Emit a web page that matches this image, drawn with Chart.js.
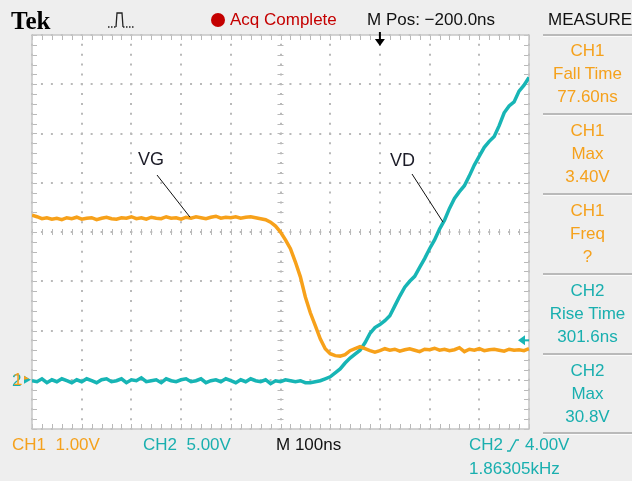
<!DOCTYPE html>
<html>
<head>
<meta charset="utf-8">
<script src="https://cdn.jsdelivr.net/npm/chart.js@4.4.0/dist/chart.umd.min.js"></script>
<style>
  html, body { margin: 0; padding: 0; background: #eeeeee; }
  #wrap { position: relative; width: 632px; height: 481px; overflow: hidden;
          font-family: "Liberation Sans", Arial, sans-serif; font-size: 17px; }
  #scope { position: absolute; left: 0; top: 0; }
  .t { position: absolute; line-height: 20px; white-space: pre; }
  .orange { color: #f5a11c; }
  .cyan { color: #19afaf; }
  .meas { position: absolute; left: 543px; width: 89px; text-align: center; line-height: 20px; }
  .sep { position: absolute; left: 543px; width: 89px; height: 2px; background: #b9b9b9; border-bottom: 1px solid #fbfbfb; }
  .lbl { position: absolute; font-size: 18px; color: #1c1c28; line-height: 20px; }
</style>
</head>
<body>
<div id="wrap">
  <canvas id="scope" width="632" height="481"></canvas>

  <div class="t" style="left:11px;top:8px;font-family:'Liberation Serif',serif;font-weight:bold;font-size:25px;line-height:26px;">Tek</div>
  <svg style="position:absolute;left:106px;top:10px" width="32" height="20">
    <path d="M2 17 H10" stroke="#222" stroke-width="1.3" stroke-dasharray="1.5 1.5" fill="none"/>
    <path d="M10 17 L11 3 H16 L17 17" stroke="#222" stroke-width="1.3" fill="none"/>
    <path d="M17 17 H29" stroke="#222" stroke-width="1.3" stroke-dasharray="1.5 1.5" fill="none"/>
  </svg>
  <svg style="position:absolute;left:210px;top:12px" width="16" height="16"><circle cx="8" cy="8" r="7" fill="#c40000"/></svg>
  <div class="t" style="left:230px;top:10px;color:#c40000;">Acq Complete</div>
  <div class="t" style="left:367px;top:10px;color:#111;">M Pos: −200.0ns</div>
  <div class="t" style="left:548px;top:10px;color:#111;">MEASURE</div>

  <div class="sep" style="top:34px"></div>
  <div class="meas orange" style="top:41px">CH1</div>
  <div class="meas orange" style="top:64px">Fall Time</div>
  <div class="meas orange" style="top:87px">77.60ns</div>
  <div class="sep" style="top:113px"></div>
  <div class="meas orange" style="top:121px">CH1</div>
  <div class="meas orange" style="top:144px">Max</div>
  <div class="meas orange" style="top:167px">3.40V</div>
  <div class="sep" style="top:193px"></div>
  <div class="meas orange" style="top:201px">CH1</div>
  <div class="meas orange" style="top:224px">Freq</div>
  <div class="meas orange" style="top:247px">?</div>
  <div class="sep" style="top:273px"></div>
  <div class="meas cyan" style="top:281px">CH2</div>
  <div class="meas cyan" style="top:304px">Rise Time</div>
  <div class="meas cyan" style="top:327px">301.6ns</div>
  <div class="sep" style="top:353px"></div>
  <div class="meas cyan" style="top:361px">CH2</div>
  <div class="meas cyan" style="top:384px">Max</div>
  <div class="meas cyan" style="top:407px">30.8V</div>
  <div class="sep" style="top:432px"></div>

  <div class="t orange" style="left:12px;top:435px;">CH1  1.00V</div>
  <div class="t cyan" style="left:143px;top:435px;">CH2  5.00V</div>
  <div class="t" style="left:276px;top:435px;color:#111;">M 100ns</div>
  <div class="t cyan" style="left:469px;top:435px;">CH2</div>
  <svg style="position:absolute;left:505px;top:437px" width="16" height="16">
    <path d="M2 14 H5 L11 3 H14" stroke="#19afaf" stroke-width="1.4" fill="none"/>
  </svg>
  <div class="t cyan" style="left:525px;top:435px;">4.00V</div>
  <div class="t cyan" style="left:469px;top:459px;">1.86305kHz</div>

  <div class="t cyan" style="left:12px;top:371px;">2</div>
  <div class="t orange" style="left:13px;top:370px;">1</div>

  <div class="lbl" style="left:138px;top:149px;">VG</div>
  <div class="lbl" style="left:390px;top:150px;">VD</div>
</div>

<script>
// time axis, ns relative to trigger (100 ns/div, 10 divisions)
const timeNs = [
  -700, -690, -680, -670, -660, -650, -640, -630, -620, -610,
  -600, -590, -580, -570, -560, -550, -540, -530, -520, -510,
  -500, -490, -480, -470, -460, -450, -440, -430, -420, -410,
  -400, -390, -380, -370, -360, -350, -340, -330, -320, -310,
  -300, -290, -280, -270, -260, -250, -240, -230, -220, -210,
  -200, -190, -180, -170, -160, -150, -140, -130, -120, -110,
  -100, -90, -80, -70, -60, -50, -40, -30, -20, -10,
  0, 10, 20, 30, 40, 50, 60, 70, 80, 90,
  100, 110, 120, 130, 140, 150, 160, 170, 180, 190,
  200, 210, 220, 230, 240, 250, 260, 270, 280, 290,
  300
];

// CH1 gate voltage, V (1 V/div)
const vgVolts = [
  3.34, 3.31, 3.27, 3.29, 3.26, 3.28, 3.25, 3.29, 3.27, 3.30,
  3.26, 3.28, 3.29, 3.25, 3.28, 3.30, 3.27, 3.26, 3.29, 3.28,
  3.31, 3.27, 3.29, 3.26, 3.30, 3.28, 3.27, 3.31, 3.28, 3.29,
  3.26, 3.30, 3.28, 3.31, 3.29, 3.27, 3.30, 3.32, 3.28, 3.30,
  3.29, 3.31, 3.28, 3.30, 3.31, 3.29, 3.27, 3.25, 3.20, 3.12,
  3.00, 2.84, 2.66, 2.39, 2.09, 1.68, 1.36, 1.10, 0.83, 0.63,
  0.53, 0.49, 0.48, 0.51, 0.59, 0.63, 0.67, 0.63, 0.59, 0.56,
  0.59, 0.63, 0.60, 0.62, 0.58, 0.61, 0.63, 0.60, 0.57, 0.62,
  0.61, 0.64, 0.60, 0.62, 0.59, 0.61, 0.65, 0.57, 0.62, 0.60,
  0.63, 0.59, 0.61, 0.62, 0.60, 0.58, 0.62, 0.60, 0.61, 0.59,
  0.63
];

// CH2 drain voltage, V (5 V/div)
const vdVolts = [
  -0.1, -0.2, 0.1, -0.3, 0.0, -0.2, 0.1, -0.1, -0.3, 0.0,
  -0.2, 0.1, -0.1, -0.3, 0.0, 0.1, -0.2, -0.1, 0.1, -0.3,
  0.0, -0.1, 0.2, -0.2, -0.1, 0.0, -0.3, 0.1, -0.1, -0.2,
  0.0, 0.1, -0.2, -0.1, 0.1, -0.3, -0.1, 0.0, -0.2, 0.1,
  -0.1, -0.3, 0.0, -0.2, 0.1, -0.1, -0.2, 0.0, -0.4, -0.1,
  -0.2, 0.0, -0.1, -0.2, -0.1, -0.3, -0.3, -0.2, -0.1, 0.1,
  0.3, 0.7, 1.1, 1.7, 2.2, 2.6, 3.0, 3.75, 4.7, 5.3,
  5.6, 6.0, 6.5, 7.5, 8.5, 9.4, 10.0, 10.5, 11.4, 12.3,
  13.3, 14.2, 15.3, 16.2, 17.4, 18.4, 19.1, 19.7, 20.7, 21.8,
  22.7, 23.6, 24.2, 24.7, 25.8, 27.1, 27.8, 28.2, 29.3, 29.9,
  30.7
];

const triggerLevel = 4.0;   // CH2 volts
const triggerTime = 0;      // ns

const ORANGE = '#f7a11a';
const CYAN = '#17b5b5';
const GRID = '#b9b9b9';

const scopePlugin = {
    id: 'scope',
    beforeDraw(chart) {
        const { ctx, chartArea: a } = chart;
        ctx.save();
        ctx.fillStyle = '#ffffff';
        ctx.fillRect(a.left, a.top, a.right - a.left, a.bottom - a.top);
        ctx.restore();
    },
    beforeDatasetsDraw(chart) {
        const { ctx, chartArea: a, scales } = chart;
        const xs = scales.x, ys = scales.y;
        const xc = xs.getPixelForValue(-200);
        const yc = ys.getPixelForValue(3);
        ctx.save();
        ctx.strokeStyle = GRID;
        ctx.lineWidth = 1;
        ctx.beginPath();
        // minor ticks, 5 per division
        for (let t = -700; t <= 300; t += 20) {
            const px = Math.round(xs.getPixelForValue(t)) + 0.5;
            ctx.moveTo(px, a.top); ctx.lineTo(px, a.top + 5);
            ctx.moveTo(px, a.bottom); ctx.lineTo(px, a.bottom - 5);
            ctx.moveTo(px, yc - 3); ctx.lineTo(px, yc + 3);
        }
        for (let v = -1; v <= 7.001; v += 0.2) {
            const py = Math.round(ys.getPixelForValue(v)) + 0.5;
            ctx.moveTo(a.left, py); ctx.lineTo(a.left + 5, py);
            ctx.moveTo(a.right, py); ctx.lineTo(a.right - 5, py);
            ctx.moveTo(xc - 3, py); ctx.lineTo(xc + 3, py);
        }
        ctx.stroke();
        ctx.strokeStyle = '#c6c6c6';
        ctx.lineWidth = 1.5;
        ctx.strokeRect(a.left, a.top, a.right - a.left, a.bottom - a.top);
        ctx.restore();
    },
    afterDraw(chart) {
        const { ctx, chartArea: a, scales } = chart;
        ctx.save();

        // trigger position arrow at top
        const tx = scales.x.getPixelForValue(triggerTime);
        ctx.strokeStyle = '#000';
        ctx.fillStyle = '#000';
        ctx.lineWidth = 2;
        ctx.beginPath();
        ctx.moveTo(tx, a.top - 3); ctx.lineTo(tx, a.top + 8);
        ctx.stroke();
        ctx.beginPath();
        ctx.moveTo(tx - 5, a.top + 4); ctx.lineTo(tx + 5, a.top + 4); ctx.lineTo(tx, a.top + 11);
        ctx.closePath(); ctx.fill();

        // trigger level arrow at right
        const ty = scales.y2.getPixelForValue(triggerLevel);
        ctx.fillStyle = CYAN;
        ctx.strokeStyle = CYAN;
        ctx.beginPath();
        ctx.moveTo(a.right - 11, ty); ctx.lineTo(a.right - 4, ty - 5); ctx.lineTo(a.right - 4, ty + 5);
        ctx.closePath(); ctx.fill();
        ctx.beginPath();
        ctx.moveTo(a.right - 5, ty); ctx.lineTo(a.right, ty);
        ctx.stroke();

        // ground markers at left
        const g2 = scales.y2.getPixelForValue(0);
        const g1 = scales.y.getPixelForValue(0);
        ctx.fillStyle = CYAN;
        ctx.beginPath();
        ctx.moveTo(a.left - 8, g2 - 4); ctx.lineTo(a.left - 1, g2); ctx.lineTo(a.left - 8, g2 + 4);
        ctx.closePath(); ctx.fill();
        ctx.fillStyle = ORANGE;
        ctx.beginPath();
        ctx.moveTo(a.left - 8, g1 - 4); ctx.lineTo(a.left - 3, g1 - 1); ctx.lineTo(a.left - 8, g1);
        ctx.closePath(); ctx.fill();

        // leader lines for the VG / VD labels
        ctx.strokeStyle = '#111';
        ctx.lineWidth = 1;
        ctx.beginPath();
        ctx.moveTo(157, 175);
        ctx.lineTo(scales.x.getPixelForValue(-382), scales.y.getPixelForValue(3.28) - 1);
        ctx.moveTo(412, 174);
        ctx.lineTo(scales.x.getPixelForValue(127), scales.y2.getPixelForValue(16.0));
        ctx.stroke();

        ctx.restore();
    }
};

const gridX = { color: GRID, lineWidth: 2, drawTicks: false };
const gridY = { color: GRID, lineWidth: 2, drawTicks: false };

new Chart(document.getElementById('scope'), {
    type: 'line',
    data: {
        datasets: [
            {
                label: 'VG',
                data: timeNs.map((t, i) => ({ x: t, y: vgVolts[i] })),
                borderColor: ORANGE,
                borderWidth: 3.5,
                pointRadius: 0,
                tension: 0,
                yAxisID: 'y'
            },
            {
                label: 'VD',
                data: timeNs.map((t, i) => ({ x: t, y: vdVolts[i] })),
                borderColor: CYAN,
                borderWidth: 3.5,
                pointRadius: 0,
                tension: 0,
                yAxisID: 'y2'
            }
        ]
    },
    options: {
        responsive: false,
        animation: false,
        layout: {
            padding: { left: 32, top: 35, right: 103, bottom: 52 }
        },
        plugins: {
            legend: { display: false },
            tooltip: { enabled: false }
        },
        scales: {
            x: {
                type: 'linear',
                min: -700,
                max: 300,
                ticks: { display: false, stepSize: 100 },
                grid: gridX,
                border: { display: false, dash: [2, 7.85], dashOffset: 1 }
            },
            y: {
                min: -1,
                max: 7,
                ticks: { display: false, stepSize: 1 },
                grid: gridY,
                border: { display: false, dash: [2, 7.94], dashOffset: 1 }
            },
            y2: {
                display: false,
                min: -5,
                max: 35
            }
        }
    },
    plugins: [scopePlugin]
});
</script>
</body>
</html>
